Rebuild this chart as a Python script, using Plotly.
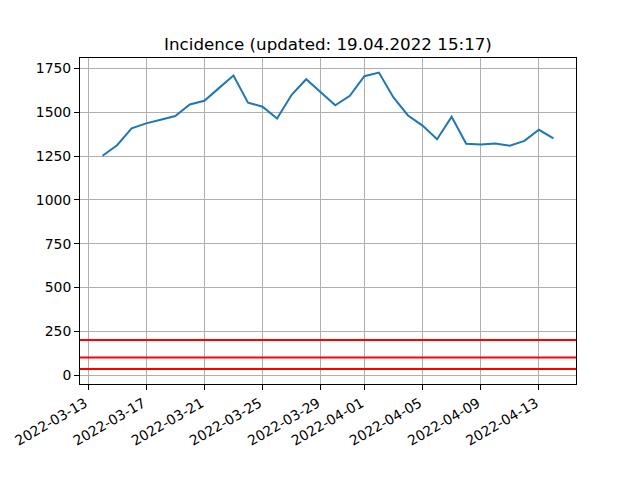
import plotly.graph_objects as go
import pandas as pd

dates = pd.date_range("2022-03-14", "2022-04-14", freq="D").strftime("%Y-%m-%d").tolist()
incidence = [1252, 1312, 1408, 1437, 1458, 1479, 1545, 1566, 1638, 1710, 1555,
             1532, 1464, 1600, 1689, 1617, 1540, 1594, 1706, 1727, 1585, 1482,
             1424, 1346, 1475, 1320, 1316, 1322, 1309, 1337, 1400, 1351]
thresholds = [35, 100, 200]
tick_dates = ["2022-03-13", "2022-03-17", "2022-03-21", "2022-03-25", "2022-03-29",
              "2022-04-01", "2022-04-05", "2022-04-09", "2022-04-13"]
y_ticks = [0, 250, 500, 750, 1000, 1250, 1500, 1750]
title = "Incidence (updated: 19.04.2022 15:17)"

fig = go.Figure()
fig.add_trace(go.Scatter(x=dates, y=incidence, mode="lines",
                         line=dict(color="#1f77b4", width=2), showlegend=False))
for t in thresholds:
    fig.add_hline(y=t, line=dict(color="red", width=2))

# page body has an 8px margin, so the figure is offset by (8, 8)
fig.update_layout(
    width=640, height=480,
    margin=dict(l=72, r=72, t=50, b=104, autoexpand=False),
    paper_bgcolor="white", plot_bgcolor="white",
    font=dict(family="DejaVu Sans", size=13.9, color="black"),
    title=dict(text=title, x=(328 - 8) / 640, xanchor="center", y=1 - 36 / 480, yanchor="middle",
               font=dict(size=16.7, family="DejaVu Sans")),
)
fig.update_xaxes(
    type="date",
    range=["2022-03-12 10:48", "2022-04-15 13:12"],
    tickvals=tick_dates, ticktext=tick_dates, tickangle=-30,
    ticklabelshift=-3,
    ticks="outside", ticklen=5, tickcolor="black",
    showgrid=True, gridcolor="#b0b0b0", gridwidth=1,
    showline=True, linecolor="black", linewidth=1, mirror=True, zeroline=False,
)
fig.update_yaxes(
    range=[-51, 1810],
    tickvals=y_ticks,
    ticks="outside", ticklen=5, tickcolor="black",
    showgrid=True, gridcolor="#b0b0b0", gridwidth=1,
    showline=True, linecolor="black", linewidth=1, mirror=True, zeroline=False,
)
fig.write_html("out.html")
